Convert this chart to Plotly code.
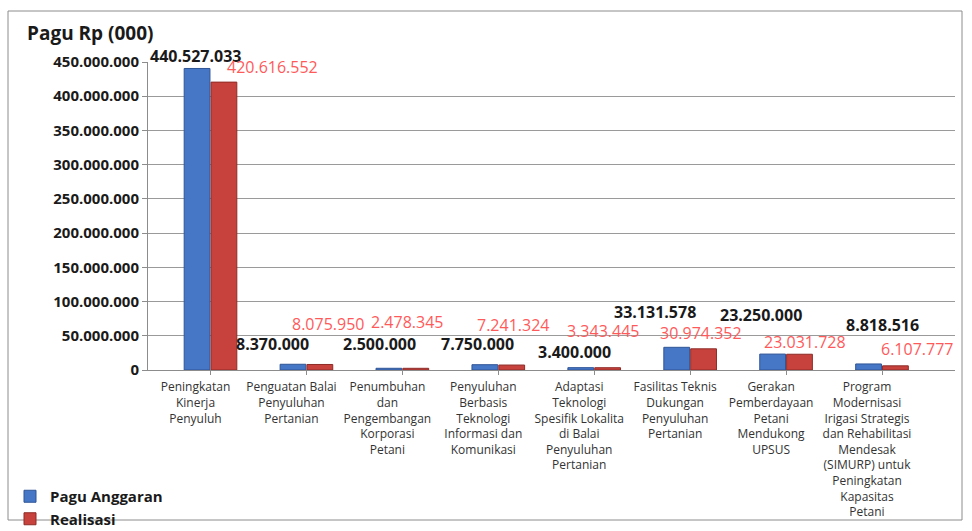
import plotly.graph_objects as go

# Program names (x categories) and budget figures in thousands of rupiah
categories = [
    "Peningkatan<br>Kinerja<br>Penyuluh",
    "Penguatan Balai<br>Penyuluhan<br>Pertanian",
    "Penumbuhan<br>dan<br>Pengembangan<br>Korporasi<br>Petani",
    "Penyuluhan<br>Berbasis<br>Teknologi<br>Informasi dan<br>Komunikasi",
    "Adaptasi<br>Teknologi<br>Spesifik Lokalita<br>di Balai<br>Penyuluhan<br>Pertanian",
    "Fasilitas Teknis<br>Dukungan<br>Penyuluhan<br>Pertanian",
    "Gerakan<br>Pemberdayaan<br>Petani<br>Mendukong<br>UPSUS",
    "Program<br>Modernisasi<br>Irigasi Strategis<br>dan Rehabilitasi<br>Mendesak<br>(SIMURP) untuk<br>Peningkatan<br>Kapasitas<br>Petani",
]
pagu_anggaran = [440527033, 8370000, 2500000, 7750000, 3400000, 33131578, 23250000, 8818516]
realisasi = [420616552, 8075950, 2478345, 7241324, 3343445, 30974352, 23031728, 6107777]

y_ticks = [0, 50000000, 100000000, 150000000, 200000000, 250000000,
           300000000, 350000000, 400000000, 450000000]

# Value-label placement (pixel shifts from each bar top)
pagu_label_dx = [-15, -34, -23, -21, -20, -35, -25, 0]
pagu_label_dy = [12, 20, 24, 21, 16, 35, 39, 39]
real_label_dx = [62, 22, 5, 15, 9, 11, 19, 35]
real_label_dy = [15, 40, 46, 40, 37, 16, 12, 17]

BLUE = "#4677c6"
RED = "#c8423d"
FONT = "Open Sans"

W, H = 972, 531
L, R, T, B = 148, 17, 62, 161
pw, ph = W - L - R, H - T - B


def px_x(px):
    return (px - L) / pw


def px_y(py):
    return (H - B - py) / ph


def fmt(v):
    return f"{v:,}".replace(",", ".")


fig = go.Figure()
fig.add_trace(go.Bar(
    name="Pagu Anggaran", x=categories, y=pagu_anggaran,
    marker=dict(color=BLUE, line=dict(color="#2f5597", width=1)),
))
fig.add_trace(go.Bar(
    name="Realisasi", x=categories, y=realisasi,
    marker=dict(color=RED, line=dict(color="#8e2b27", width=1)),
))

annotations = []
for i, c in enumerate(categories):
    annotations.append(dict(
        x=c, y=pagu_anggaran[i], xref="x", yref="y", text=fmt(pagu_anggaran[i]),
        showarrow=False, xshift=pagu_label_dx[i], yshift=pagu_label_dy[i],
        font=dict(family=FONT, size=16, color="#1a1a1a", weight="bold"),
    ))
    annotations.append(dict(
        x=c, y=realisasi[i], xref="x", yref="y", text=fmt(realisasi[i]),
        showarrow=False, xshift=real_label_dx[i], yshift=real_label_dy[i],
        font=dict(family=FONT, size=16, color="#ff5a5a"),
    ))

annotations.append(dict(
    text="<b>Pagu Rp (000)</b>", xref="paper", yref="paper",
    x=px_x(25), y=px_y(33), xanchor="left", yanchor="middle",
    showarrow=False, font=dict(family=FONT, size=19, color="#1a1a1a"),
))

fig.update_layout(
    width=W, height=H,
    margin=dict(l=L, r=R, t=T, b=B, autoexpand=False),
    paper_bgcolor="white", plot_bgcolor="white",
    separators=",.",
    barmode="group", bargap=0.44, bargroupgap=0.04,
    font=dict(family=FONT, color="#1a1a1a"),
    xaxis=dict(
        tickfont=dict(family=FONT, size=12, color="#333333"),
        tickangle=0, automargin=False, ticklabelshift=-15, ticklabelstandoff=2,
        showline=True, linecolor="#8c8c8c", linewidth=1,
        ticks="outside", ticklen=4, tickcolor="#8c8c8c",
        showgrid=False,
    ),
    yaxis=dict(
        range=[0, 450000000], tickvals=y_ticks,
        tickformat=",d", automargin=False,
        tickfont=dict(family=FONT, size=15, color="#1a1a1a", weight="bold"),
        showline=True, linecolor="#8c8c8c", linewidth=1,
        ticks="outside", ticklen=5, tickcolor="#8c8c8c",
        gridcolor="#9a9a9a", gridwidth=1, zeroline=False,
    ),
    legend=dict(
        xref="container", yref="container", x=10 / W, y=1 - 480 / H,
        xanchor="left", yanchor="top", orientation="v",
        font=dict(family=FONT, size=15, color="#1a1a1a", weight="bold"),
        bgcolor="rgba(0,0,0,0)", itemwidth=30, tracegroupgap=0,
    ),
    annotations=annotations,
    shapes=[dict(
        type="rect", xref="paper", yref="paper",
        x0=px_x(8), x1=px_x(962), y0=px_y(520), y1=px_y(11),
        line=dict(color="#8c8c8c", width=1), fillcolor="rgba(0,0,0,0)",
        layer="below",
    )],
)

fig.write_html("out.html")
